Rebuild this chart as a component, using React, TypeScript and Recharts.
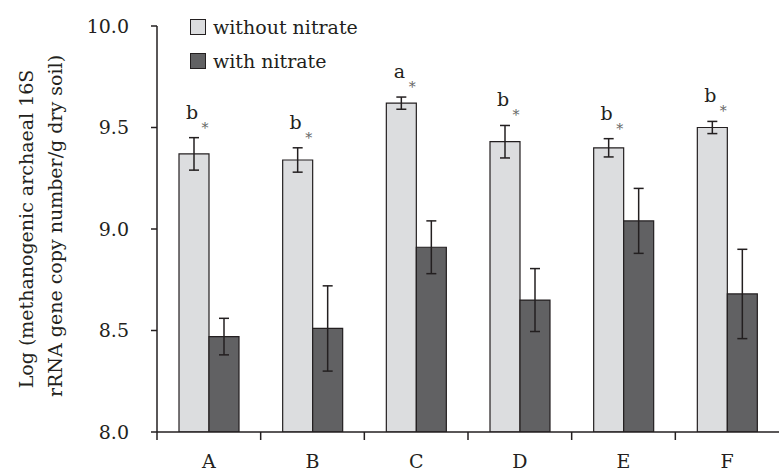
import { BarChart, Bar, XAxis, YAxis, Legend, ErrorBar, LabelList } from "recharts";

const categories = ["A", "B", "C", "D", "E", "F"];
const withoutNitrate = [9.37, 9.34, 9.62, 9.43, 9.4, 9.5];
const withoutNitrateErr = [0.08, 0.06, 0.03, 0.08, 0.045, 0.03];
const withNitrate = [8.47, 8.51, 8.91, 8.65, 9.04, 8.68];
const withNitrateErr = [0.09, 0.21, 0.13, 0.155, 0.16, 0.22];
const groupLetters = ["b", "b", "a", "b", "b", "b"];
const yTicks = [8, 8.5, 9, 9.5, 10];

const W = 779;
const H = 472;
const margin = { top: 26, right: 0, left: 0, bottom: 0 };
const yAxisWidth = 157;
const xAxisHeight = 40;
const plotW = W - margin.left - margin.right - yAxisWidth;
const plotH = H - margin.top - margin.bottom - xAxisHeight;
const band = plotW / categories.length;
const pxPerUnit = plotH / (yTicks[yTicks.length - 1] - yTicks[0]);

const FONT = "'DejaVu Serif', serif";
const INK = "#231f20";
const LIGHT = "#dcdddf";
const DARK = "#616163";

const data = categories.map((c, i) => ({
  cat: c,
  without: withoutNitrate[i],
  withoutErr: withoutNitrateErr[i],
  with: withNitrate[i],
  withErr: withNitrateErr[i],
  letter: groupLetters[i],
}));

function XTick(props: any) {
  const { x, y, payload } = props;
  const left = x - band / 2;
  return (
    <g>
      <line x1={left} y1={y} x2={left} y2={y + 8} stroke={INK} strokeWidth={1.5} />
      <text x={x} y={y + 36} textAnchor="middle" fontFamily={FONT} fontSize={19} fill={INK}>
        {payload.value}
      </text>
    </g>
  );
}

// group letter + significance star above the "without nitrate" bars
function renderLetter(props: any) {
  const { x, y, width, index } = props;
  const top = y - withoutNitrateErr[index] * pxPerUnit;
  const cx = x + width / 2 - 2;
  return (
    <g>
      <text x={cx} y={top - 19} textAnchor="middle" fontFamily={FONT} fontSize={19} fill={INK}>
        {groupLetters[index]}
      </text>
      <text x={cx + 13} y={top - 5} textAnchor="middle" fontFamily={FONT} fontSize={14} fill="#666">
        *
      </text>
    </g>
  );
}

function YLabel() {
  return (
    <g fontFamily={FONT} fontSize={19} fill={INK}>
      <text x={33} y={229} textAnchor="middle" transform="rotate(-90, 33, 229)">
        Log (methanogenic archaeal 16S
      </text>
      <text x={62} y={226} textAnchor="middle" transform="rotate(-90, 62, 226)">
        rRNA gene copy number/g dry soil)
      </text>
    </g>
  );
}

function LegendBox() {
  const rows = [
    { name: "without nitrate", color: LIGHT },
    { name: "with nitrate", color: DARK },
  ];
  return (
    <div style={{ fontFamily: FONT, fontSize: 19, color: INK }}>
      {rows.map((r) => (
        <div key={r.name} style={{ display: "flex", alignItems: "center", height: 34 }}>
          <span
            style={{
              display: "inline-block",
              width: 14,
              height: 14,
              background: r.color,
              border: `1.5px solid ${INK}`,
              marginRight: 7,
            }}
          />
          <span>{r.name}</span>
        </div>
      ))}
    </div>
  );
}

export default function App() {
  return (
    <div style={{ position: "absolute", left: 0, top: 0, width: W, height: H, background: "#fff" }}>
      <BarChart width={W} height={H} data={data} margin={margin} barGap={0} barSize={30}>
        <XAxis
          dataKey="cat"
          height={xAxisHeight}
          tickLine={false}
          tickSize={0}
          tickMargin={0}
          interval={0}
          tick={<XTick />}
          axisLine={{ stroke: INK, strokeWidth: 1.5 }}
        />
        <YAxis
          width={yAxisWidth}
          domain={[8, 10]}
          ticks={yTicks}
          type="number"
          allowDataOverflow
          tickFormatter={(v: number) => v.toFixed(1)}
          tickSize={6}
          tickMargin={22}
          tick={{ fontFamily: FONT, fontSize: 19, fill: INK }}
          tickLine={{ stroke: INK, strokeWidth: 1.5 }}
          axisLine={{ stroke: INK, strokeWidth: 1.5 }}
          label={{ content: () => <YLabel /> }}
        />
        <Legend
          layout="vertical"
          align="center"
          verticalAlign="middle"
          content={() => <LegendBox />}
          wrapperStyle={{ left: 190, top: 10, width: 200 }}
        />
        <Bar dataKey="without" name="without nitrate" fill={LIGHT} stroke={INK} strokeWidth={1.2} isAnimationActive={false}>
          <ErrorBar dataKey="withoutErr" width={5} stroke={INK} strokeWidth={1.5} />
          <LabelList dataKey="letter" content={renderLetter} />
        </Bar>
        <Bar dataKey="with" name="with nitrate" fill={DARK} stroke={INK} strokeWidth={1.2} isAnimationActive={false}>
          <ErrorBar dataKey="withErr" width={5} stroke={INK} strokeWidth={1.5} />
        </Bar>
      </BarChart>
    </div>
  );
}
